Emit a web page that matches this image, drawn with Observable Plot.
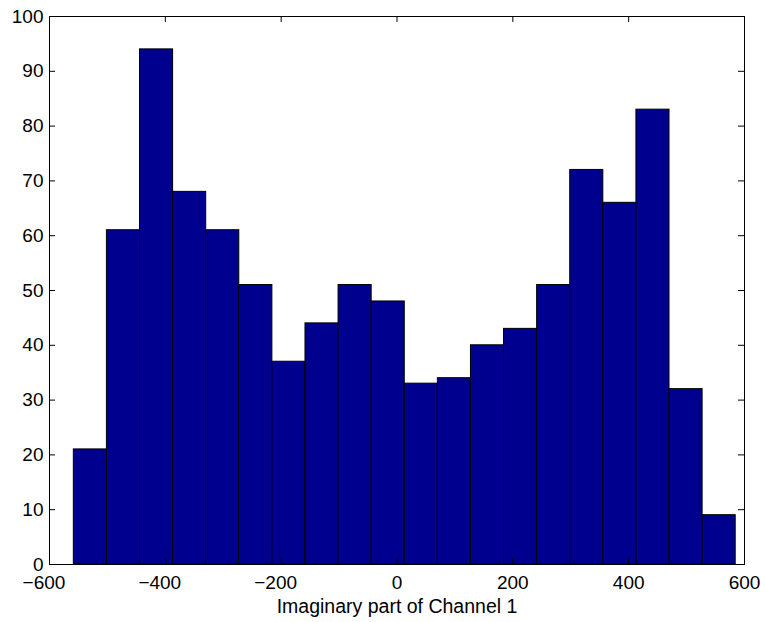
<!DOCTYPE html>
<html><head><meta charset="utf-8">
<script src="https://cdn.jsdelivr.net/npm/d3@7"></script>
<script src="https://cdn.jsdelivr.net/npm/@observablehq/plot@0.6"></script>
<style>body{margin:0;background:#fff;} svg{font-family:"Liberation Sans",Arial,sans-serif;}</style>
</head><body><div id="chart"></div>
<script>
const binStart = -558;
const binWidth = 57.14;
const counts = [21, 61, 94, 68, 61, 51, 37, 44, 51, 48, 33, 34, 40, 43, 51, 72, 66, 83, 32, 9];
const xTicks = [-600, -400, -200, 0, 200, 400, 600];
const yTicks = [0, 10, 20, 30, 40, 50, 60, 70, 80, 90, 100];
const xLabel = "Imaginary part of Channel 1";

const bins = counts.map((c, i) => ({x1: binStart + i * binWidth, x2: binStart + (i + 1) * binWidth, y: c}));
const xTickLen = 10.4, yTickLen = 1.1;
const fs = 19;
const halfDigits = 3 * 0.556 * fs / 2;

const chart = Plot.plot({
  width: 765, height: 622,
  marginLeft: 49, marginRight: 21, marginTop: 16, marginBottom: 58,
  style: {fontSize: fs + "px", fontFamily: "'Liberation Sans', Arial, sans-serif", color: "black", background: "white"},
  x: {domain: [-600, 600], axis: null},
  y: {domain: [0, 100]},
  marks: [
    Plot.rectY(bins, {x1: "x1", x2: "x2", y: "y", fill: "#00008f", stroke: "black", strokeWidth: 1}),
    Plot.ruleX(xTicks, {y1: 0, y2: yTickLen, stroke: "black"}),
    Plot.ruleX(xTicks, {y1: 100 - yTickLen, y2: 100, stroke: "black"}),
    Plot.ruleY(yTicks, {x1: -600, x2: -600 + xTickLen, stroke: "black"}),
    Plot.ruleY(yTicks, {x1: 600 - xTickLen, x2: 600, stroke: "black"}),
    Plot.text(xTicks, {x: d => d, frameAnchor: "bottom", lineAnchor: "top", dy: 11, fontSize: fs, text: d => String(Math.abs(d))}),
    Plot.text(xTicks.filter(d => d < 0), {x: d => d, frameAnchor: "bottom", lineAnchor: "top", dy: 11, dx: -halfDigits, textAnchor: "end", fontSize: fs, text: () => "\u2212"}),
    Plot.axisY(yTicks, {tickSize: 0, tickPadding: 6, label: null, fontSize: fs}),
    Plot.frame({stroke: "black", strokeWidth: 1}),
    Plot.text([xLabel], {frameAnchor: "bottom", lineAnchor: "middle", dy: 42.5, fontSize: 19.5, text: d => d})
  ]
});
document.getElementById("chart").appendChild(chart);
</script></body></html>
